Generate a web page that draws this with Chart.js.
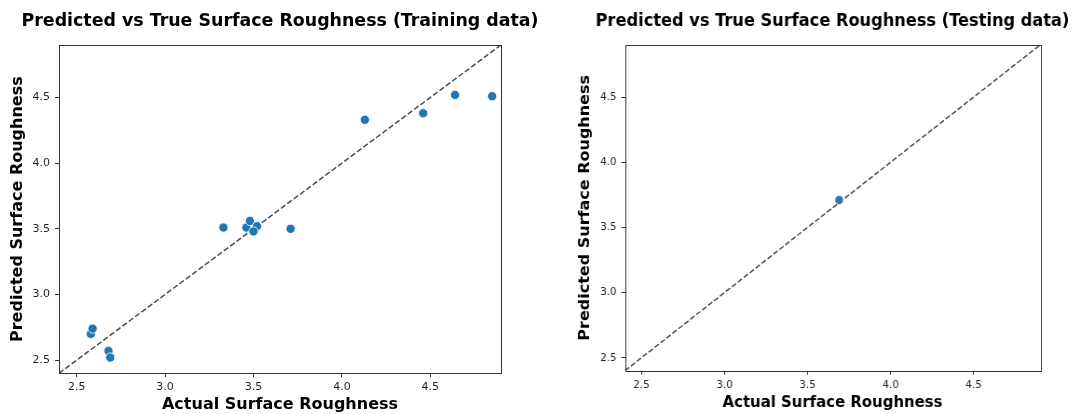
<!DOCTYPE html>
<html>
<head>
<meta charset="utf-8">
<script src="https://cdn.jsdelivr.net/npm/chart.js@4"></script>
<style>
  body { margin: 0; background: #fff; overflow: hidden; }
  #wrap { position: relative; width: 1075px; height: 414px; overflow: hidden; }
  .box { position: absolute; top: 0; height: 414px; }
  /* the testing panel is squeezed horizontally in the original */
  #testBox { left: 575.5px; width: 550.6px; transform: scaleX(0.93); transform-origin: 0 0; }
</style>
</head>
<body>
<div id="wrap">
  <div class="box" style="left:8px;width:544px"><canvas id="trainChart"></canvas></div>
  <div class="box" id="testBox"><canvas id="testChart"></canvas></div>
</div>
<script>
// training set: actual vs predicted
var trainActual    = [2.58, 2.59, 2.68, 2.69, 3.33, 3.46, 3.48, 3.52, 3.50, 3.71, 4.13, 4.46, 4.64, 4.85];
var trainPredicted = [2.70, 2.74, 2.57, 2.52, 3.51, 3.51, 3.56, 3.52, 3.48, 3.50, 4.33, 4.38, 4.52, 4.51];
// testing set
var testActual    = [3.69];
var testPredicted = [3.71];
// axis limits + ticks
var axisLimits = [2.40, 4.90];
var tickValues = [2.5, 3.0, 3.5, 4.0, 4.5];

var FONT = "'DejaVu Sans', sans-serif";

function toPoints(xs, ys) {
  var out = [];
  for (var i = 0; i < xs.length; i++) out.push({x: xs[i], y: ys[i]});
  return out;
}

// frame around plot area
var frame = {
  id: 'frame',
  afterDraw: function (chart) {
    var a = chart.chartArea, ctx = chart.ctx;
    ctx.save();
    ctx.strokeStyle = '#333';
    ctx.lineWidth = 1;
    ctx.strokeRect(Math.round(a.left) + 0.5, Math.round(a.top) + 0.5,
                   Math.round(a.right - a.left), Math.round(a.bottom - a.top));
    ctx.restore();
  }
};

function axis(label, size, isX, tickPad) {
  return {
    type: 'linear',
    min: axisLimits[0],
    max: axisLimits[1],
    afterBuildTicks: function (s) { s.ticks = tickValues.map(function (v) { return {value: v}; }); },
    afterFit: function (s) { if (isX) s.height = size; else s.width = size; },
    border: { display: false },
    grid: { drawOnChartArea: false, drawTicks: true, tickLength: 4, color: '#333' },
    ticks: { color: '#262626', padding: tickPad, font: { family: FONT, size: 11 },
             callback: function (v) { return v.toFixed(1); } },
    title: { display: true, text: label, color: '#000', padding: 0,
             font: { family: FONT, size: 16, weight: 'bold' } }
  };
}

// empty right-hand axis, only reserves space so the title centres on the plot
function spacer(size) {
  return {
    type: 'linear', position: 'right', display: true,
    afterFit: function (s) { s.width = size; },
    ticks: { display: false }, grid: { display: false }, border: { display: false }
  };
}

function makeChart(id, title, xs, ys, yWidth, xHeight, padBottom, titlePad, xTickPad) {
  new Chart(document.getElementById(id), {
    type: 'scatter',
    data: {
      datasets: [{
        data: toPoints(xs, ys),
        xAxisID: 'x', yAxisID: 'y',
        backgroundColor: '#1f77b4',
        borderColor: '#ffffff',
        borderWidth: 0.8,
        pointRadius: 4.6
      }, {
        data: toPoints(axisLimits, axisLimits),
        xAxisID: 'x', yAxisID: 'y',
        showLine: true,
        borderColor: 'rgba(0,0,0,0.7)',
        borderWidth: 1.5,
        borderDash: [5.5, 2.4],
        pointRadius: 0
      }]
    },
    options: {
      responsive: true,
      maintainAspectRatio: false,
      animation: false,
      layout: { padding: { left: 0, right: 0, top: 0, bottom: padBottom } },
      plugins: {
        legend: { display: false },
        tooltip: { enabled: false },
        title: { display: true, text: title, color: '#000',
                 padding: titlePad,
                 font: { family: FONT, size: 17.4, weight: 'bold' } }
      },
      scales: {
        x: axis('Actual Surface Roughness', xHeight, true, xTickPad),
        y: axis('Predicted Surface Roughness', yWidth, false, 5),
        yr: spacer(yWidth)
      }
    },
    plugins: [frame]
  });
}

makeChart('trainChart', 'Predicted vs True Surface Roughness (Training data)',
          trainActual, trainPredicted, 51, 40.7, 0, { top: 10.6, bottom: 13.5 }, 3.5);
makeChart('testChart', 'Predicted vs True Surface Roughness (Testing data)',
          testActual, testPredicted, 52.5, 42.2, 1.1, { top: 11.1, bottom: 13 }, 3.8);
</script>
</body>
</html>
